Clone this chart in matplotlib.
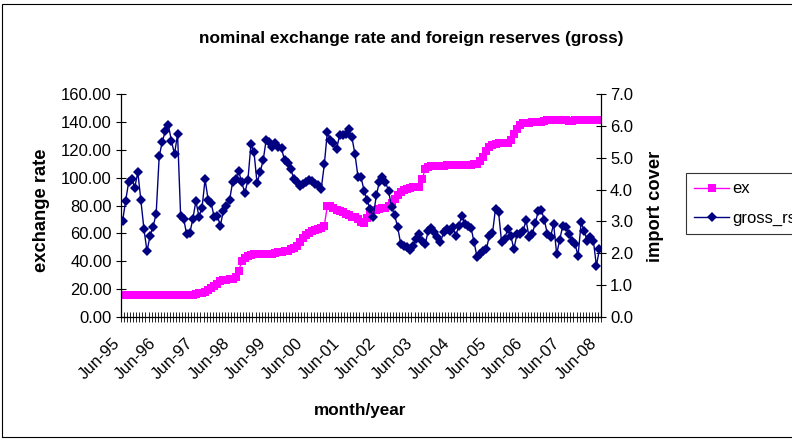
import matplotlib
matplotlib.use("Agg")
import matplotlib.pyplot as plt
import matplotlib.patches as mpatches
from matplotlib.ticker import FormatStrFormatter, FixedLocator
import numpy as np

plt.rcParams['font.family'] = ['Liberation Sans', 'DejaVu Sans']

# monthly values Jun-95 .. Jun-08
ex = [15.6, 15.5, 15.6, 15.5, 15.6, 15.6, 15.5, 15.6, 15.6, 15.5, 15.6, 15.6,
      15.6, 15.5, 15.6, 15.6, 15.6, 15.6, 15.6, 15.7, 15.7, 15.8, 15.8, 16.0,
      16.5, 17.2, 17.5, 17.8, 19.5, 21.0, 22.0, 23.5, 25.5, 26.5, 26.8, 27.0,
      27.5, 29.0, 33.0, 40.0, 42.0, 43.5, 44.5, 45.0, 45.2, 45.3, 45.2, 45.0,
      45.1, 45.3, 46.0, 46.5, 46.8, 47.0, 47.5, 48.5, 49.5, 51.0, 54.0, 57.0,
      59.0, 60.5, 61.5, 62.5, 63.2, 64.0, 65.5, 80.0, 79.5, 78.5, 77.0, 76.0,
      75.0, 74.0, 73.0, 72.0, 71.5, 70.5, 68.0, 67.5, 71.0, 75.0, 76.5, 77.0,
      77.5, 78.0, 78.5, 79.5, 82.0, 85.0, 87.5, 89.5, 91.0, 92.0, 92.5, 93.0,
      93.2, 93.5, 99.0, 106.0, 107.5, 108.0, 108.5, 108.5, 108.6, 108.6, 108.7, 108.7,
      108.8, 108.8, 108.8, 108.9, 108.9, 109.0, 109.0, 109.5, 110.0, 112.0, 115.0, 119.0,
      122.0, 123.5, 124.0, 124.5, 124.5, 124.5, 125.0, 127.0, 131.0, 135.0, 138.0, 139.0,
      139.5, 139.5, 140.0, 140.0, 140.0, 140.0, 140.5, 141.0, 141.0, 141.5, 141.5, 141.5,
      141.0, 141.0, 140.5, 140.5, 141.0, 141.0, 141.5, 141.5, 141.5, 141.5, 141.5, 141.5,
      141.0]

gross_rs = [3.00, 3.64, 4.23, 4.34, 4.06, 4.55, 3.66, 2.77, 2.06, 2.55, 2.84, 3.24,
            5.05, 5.50, 5.84, 6.02, 5.53, 5.11, 5.74, 3.18, 3.08, 2.59, 2.63, 3.08,
            3.64, 3.15, 3.43, 4.32, 3.68, 3.57, 3.13, 3.18, 2.87, 3.34, 3.50, 3.66,
            4.23, 4.34, 4.57, 4.23, 3.89, 4.29, 5.42, 5.18, 4.20, 4.55, 4.92, 5.57,
            5.50, 5.34, 5.45, 5.34, 5.29, 4.92, 4.82, 4.66, 4.34, 4.23, 4.10, 4.18,
            4.25, 4.31, 4.27, 4.18, 4.13, 4.03, 4.79, 5.81, 5.55, 5.45, 5.26, 5.71,
            5.71, 5.74, 5.89, 5.65, 5.13, 4.41, 4.39, 3.97, 3.66, 3.40, 3.13, 3.82,
            4.23, 4.39, 4.23, 3.97, 3.45, 3.20, 2.82, 2.29, 2.24, 2.19, 2.10, 2.24,
            2.45, 2.61, 2.40, 2.29, 2.71, 2.80, 2.66, 2.50, 2.34, 2.66, 2.77, 2.71,
            2.82, 2.55, 2.87, 3.18, 2.92, 2.87, 2.80, 2.34, 1.87, 1.98, 2.08, 2.13,
            2.55, 2.63, 3.40, 3.29, 2.34, 2.45, 2.77, 2.55, 2.13, 2.59, 2.61, 2.70,
            3.03, 2.50, 2.61, 2.94, 3.34, 3.36, 3.03, 2.59, 2.52, 2.92, 1.98, 2.42,
            2.87, 2.82, 2.59, 2.40, 2.29, 1.92, 2.97, 2.71, 2.40, 2.50, 2.40, 1.61,
            2.13]

tick_labels = ["Jun-95", "Jun-96", "Jun-97", "Jun-98", "Jun-99", "Jun-00", "Jun-01",
               "Jun-02", "Jun-03", "Jun-04", "Jun-05", "Jun-06", "Jun-07", "Jun-08"]

W, H = 792, 441
fig = plt.figure(figsize=(W / 100, H / 100), dpi=100)
ax = fig.add_axes([121 / W, 1 - 317 / H, (601 - 121) / W, (317 - 94) / H])
ax2 = ax.twinx()

x = np.arange(len(ex))
l1, = ax.plot(x, ex, color='#FF00FF', marker='s', markersize=5.3, lw=1.0,
              markeredgewidth=0, label='ex')
l2, = ax2.plot(x, gross_rs, color='#000080', marker='D', markersize=5.6, lw=1.0,
               markeredgewidth=0, label='gross_rs')

ax.set_xlim(-0.5, len(ex) - 0.5)
ax.set_ylim(0, 160)
ax2.set_ylim(0, 7)
ax.set_yticks(np.arange(0, 161, 20))
ax2.set_yticks(np.arange(0, 7.1, 1))
ax.yaxis.set_major_formatter(FormatStrFormatter('%.2f'))
ax2.yaxis.set_major_formatter(FormatStrFormatter('%.1f'))

ax.set_xticks(np.arange(0, len(ex), 12))
ax.set_xticklabels(tick_labels, rotation=45, ha='right', va='top', fontsize=12)
ax.xaxis.set_minor_locator(FixedLocator(np.arange(-0.5, len(ex), 1)))
ax.tick_params(axis='x', which='major', length=0, pad=13)
ax.tick_params(axis='x', which='minor', direction='inout', length=7, width=0.6)
ax.tick_params(axis='y', direction='inout', length=7, width=0.8, labelsize=12, pad=3)
ax2.tick_params(axis='y', direction='inout', length=7, width=0.8, labelsize=12, pad=3)

for a in (ax, ax2):
    a.spines['top'].set_visible(False)
    a.patch.set_visible(False)
ax.spines['right'].set_visible(False)
ax2.spines['left'].set_visible(False)
ax.spines['left'].set_linewidth(0.9)
ax2.spines['right'].set_linewidth(0.9)
ax.spines['bottom'].set_linewidth(0.9)
ax2.spines['bottom'].set_visible(False)
ax2.set_zorder(ax.get_zorder() + 1)

fig.text(411 / W, 1 - 38 / H, "nominal exchange rate and foreign reserves (gross)",
         ha='center', va='center', fontsize=12.4, fontweight='bold')
fig.text(42 / W, 1 - 210 / H, "exchange rate", rotation=90, ha='center', va='center',
         fontsize=13.2, fontweight='bold')
fig.text(655 / W, 1 - 206 / H, "import cover", rotation=90, ha='center', va='center',
         fontsize=13.2, fontweight='bold')
fig.text(360 / W, 1 - 410 / H, "month/year", ha='center', va='center',
         fontsize=12.3, fontweight='bold')

leg = fig.legend(handles=[l1, l2], loc='upper left',
                 bbox_to_anchor=(686 / W, 1 - 173 / H), frameon=True, fancybox=False,
                 fontsize=12, borderpad=0.5, labelspacing=0.85, handlelength=2.1,
                 handletextpad=0.15, borderaxespad=0)
leg.get_frame().set_edgecolor('black')
leg.get_frame().set_linewidth(0.8)

fig.patches.append(mpatches.Rectangle((2 / W, 4 / H), 1.2, 1 - 8 / H, transform=fig.transFigure,
                                      fill=False, edgecolor='black', linewidth=0.8))

fig.savefig("out.png", dpi=100)
